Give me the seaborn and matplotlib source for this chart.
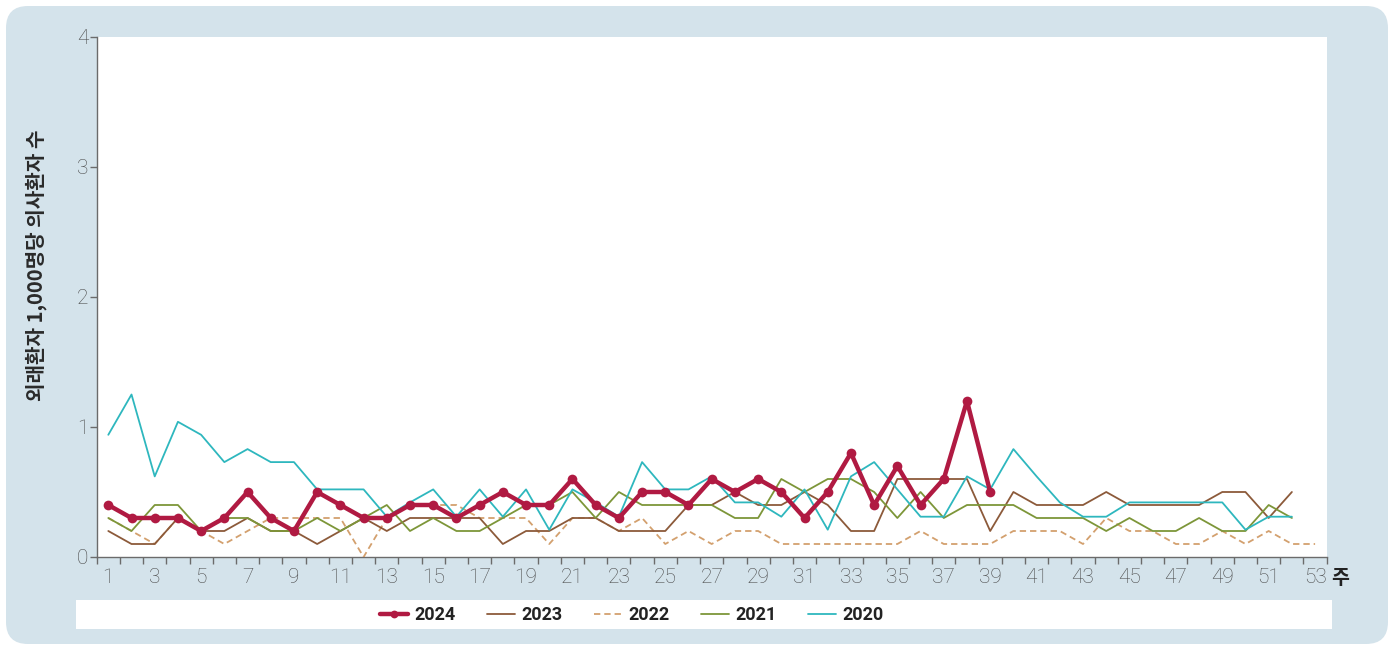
import matplotlib

matplotlib.use("Agg")
import matplotlib.pyplot as plt
import matplotlib.transforms as mtransforms
from matplotlib.patches import FancyBboxPatch, Rectangle
import numpy as np
import seaborn as sns

# weekly rate per 1,000 outpatients
rate_2024 = [0.4, 0.3, 0.3, 0.3, 0.2, 0.3, 0.5, 0.3, 0.2, 0.5,
             0.4, 0.3, 0.3, 0.4, 0.4, 0.3, 0.4, 0.5, 0.4, 0.4,
             0.6, 0.4, 0.3, 0.5, 0.5, 0.4, 0.6, 0.5, 0.6, 0.5,
             0.3, 0.5, 0.8, 0.4, 0.7, 0.4, 0.6, 1.2, 0.5]
rate_2023 = [0.2, 0.1, 0.1, 0.3, 0.2, 0.2, 0.3, 0.2, 0.2, 0.1,
             0.2, 0.3, 0.2, 0.3, 0.3, 0.3, 0.3, 0.1, 0.2, 0.2,
             0.3, 0.3, 0.2, 0.2, 0.2, 0.4, 0.4, 0.5, 0.4, 0.4,
             0.5, 0.4, 0.2, 0.2, 0.6, 0.6, 0.6, 0.6, 0.2, 0.5,
             0.4, 0.4, 0.4, 0.5, 0.4, 0.4, 0.4, 0.4, 0.5, 0.5, 0.3, 0.5]
rate_2022 = [0.3, 0.2, 0.1, 0.3, 0.2, 0.1, 0.2, 0.3, 0.3, 0.3,
             0.3, 0.0, 0.3, 0.4, 0.4, 0.4, 0.3, 0.3, 0.3, 0.1,
             0.3, 0.3, 0.2, 0.3, 0.1, 0.2, 0.1, 0.2, 0.2, 0.1,
             0.1, 0.1, 0.1, 0.1, 0.1, 0.2, 0.1, 0.1, 0.1, 0.2,
             0.2, 0.2, 0.1, 0.3, 0.2, 0.2, 0.1, 0.1, 0.2, 0.1, 0.2, 0.1, 0.1]
rate_2021 = [0.3, 0.2, 0.4, 0.4, 0.2, 0.3, 0.3, 0.2, 0.2, 0.3,
             0.2, 0.3, 0.4, 0.2, 0.3, 0.2, 0.2, 0.3, 0.4, 0.4,
             0.5, 0.3, 0.5, 0.4, 0.4, 0.4, 0.4, 0.3, 0.3, 0.6,
             0.5, 0.6, 0.6, 0.5, 0.3, 0.5, 0.3, 0.4, 0.4, 0.4,
             0.3, 0.3, 0.3, 0.2, 0.3, 0.2, 0.2, 0.3, 0.2, 0.2, 0.4, 0.3]
rate_2020 = [0.94, 1.25, 0.62, 1.04, 0.94, 0.73, 0.83, 0.73, 0.73, 0.52,
             0.52, 0.52, 0.31, 0.42, 0.52, 0.31, 0.52, 0.31, 0.52, 0.21,
             0.52, 0.42, 0.31, 0.73, 0.52, 0.52, 0.62, 0.42, 0.42, 0.31,
             0.52, 0.21, 0.62, 0.73, 0.52, 0.31, 0.31, 0.62, 0.52, 0.83,
             0.62, 0.42, 0.31, 0.31, 0.42, 0.42, 0.42, 0.42, 0.42, 0.21, 0.31, 0.31]

years = ["2024", "2023", "2022", "2021", "2020"]
series = {"2024": rate_2024, "2023": rate_2023, "2022": rate_2022,
          "2021": rate_2021, "2020": rate_2020}
colors = {"2024": "#b01a42", "2023": "#8c5a3a", "2022": "#d3a06e",
          "2021": "#7d9639", "2020": "#2eb7be"}
week_labels = [str(w) for w in range(1, 54, 2)]

PANEL = "#d4e3eb"
TICK_FONT = ["Roboto", "DejaVu Sans"]
KO_FONT = ["Noto Sans CJK KR", "DejaVu Sans"]

sns.set_theme(style="white")
plt.rcParams["font.family"] = TICK_FONT

fig = plt.figure(figsize=(13.93, 6.48), dpi=100)
fig.patch.set_facecolor("white")
px = mtransforms.IdentityTransform()
fig.add_artist(FancyBboxPatch((6, 4), 1382, 638, boxstyle="round,pad=0,rounding_size=22",
                              transform=px, facecolor=PANEL, edgecolor="none", zorder=0))
fig.add_artist(Rectangle((76 / 1393, 1 - 629 / 648), (1332 - 76) / 1393, 29 / 648,
                         transform=fig.transFigure, facecolor="white", edgecolor="none", zorder=1))

ax = fig.add_axes([96.7 / 1393, 1 - 557 / 648, (1326.7 - 96.7) / 1393, 520 / 648])
ax.set_facecolor("white")

lines = {}
for year in ["2022", "2023", "2021", "2020", "2024"]:
    values = series[year]
    weeks = np.arange(1, len(values) + 1)
    if year == "2024":
        sns.lineplot(x=weeks, y=values, ax=ax, color=colors[year], linewidth=3.2,
                     marker="o", markersize=7, markeredgewidth=0, errorbar=None, zorder=5)
    else:
        sns.lineplot(x=weeks, y=values, ax=ax, color=colors[year], linewidth=1.3,
                     errorbar=None, zorder=3)
    lines[year] = ax.lines[-1]
lines["2022"].set_dashes([3.5, 2.2])

ax.set_xlim(0.5, 53.5)
ax.set_ylim(0, 4)
ax.set_xlabel("")
ax.set_ylabel("")
for side in ["top", "right"]:
    ax.spines[side].set_visible(False)
for side in ["left", "bottom"]:
    ax.spines[side].set_color("#6b6b6b")
    ax.spines[side].set_linewidth(1.0)

ax.set_yticks([0, 1, 2, 3, 4])
ax.set_yticklabels(["0", "1", "2", "3", "4"])
ax.set_xticks(range(1, 54, 2))
ax.set_xticklabels(week_labels)
ax.set_xticks(np.arange(0.5, 54, 1), minor=True)
ax.tick_params(axis="y", which="major", direction="out", length=5, width=1,
               color="#6b6b6b", labelsize=15, labelcolor="#4a4a4a", pad=1, left=True)
ax.tick_params(axis="x", which="major", length=0, labelsize=15, labelcolor="#4a4a4a", pad=8)
ax.tick_params(axis="x", which="minor", direction="out", length=5, width=1,
               color="#6b6b6b", bottom=True)
for label in ax.get_xticklabels() + ax.get_yticklabels():
    label.set_fontweight("light")

fig.text(36 / 1393, 1 - 265 / 648, "외래환자 1,000명당 의사환자 수", rotation=90,
         ha="center", va="center", fontsize=14.5, fontweight="bold", color="#2a2a2a",
         family=KO_FONT)
fig.text(1340 / 1393, 1 - 578 / 648, "주", ha="center", va="center", fontsize=14,
         fontweight="bold", color="#222222", family=KO_FONT)

handles = [lines[y] for y in years]
leg = fig.legend(handles, years, loc="center", bbox_to_anchor=(632 / 1393, 1 - 615 / 648),
                 ncol=5, frameon=False, handlelength=1.55, handletextpad=0.35,
                 columnspacing=1.75, markerscale=0.8,
                 prop={"size": 13, "weight": "bold", "family": TICK_FONT})
for text in leg.get_texts():
    text.set_color("#222222")

fig.savefig("out.png", dpi=100, facecolor="white")
